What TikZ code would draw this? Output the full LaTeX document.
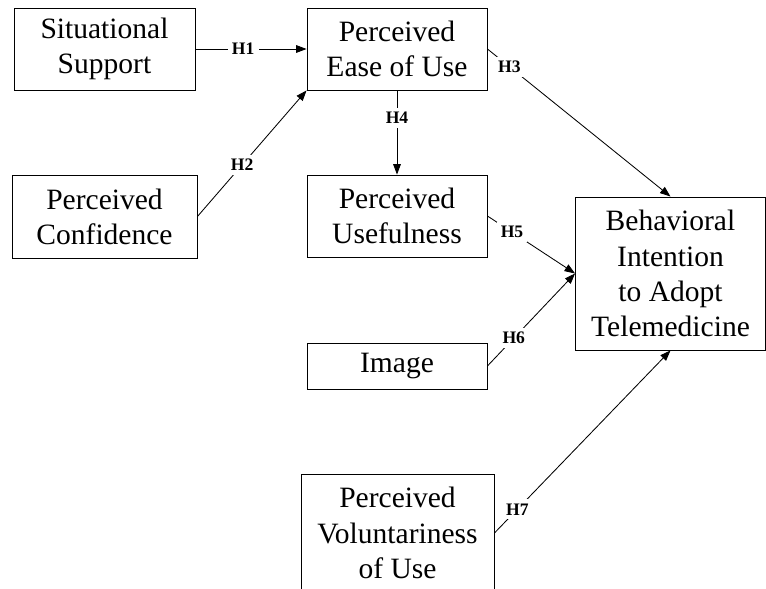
\documentclass[tikz,border=0pt]{standalone}
\usepackage{fontspec}
\setmainfont{Liberation Serif}
\usetikzlibrary{arrows.meta}

\begin{document}
\begin{tikzpicture}[x=0.025cm, y=-0.025cm,
			->,
			>={Triangle[length=7.5pt, width=5.5pt]},
			line width=0.6pt,
			box/.style={draw, align=center, inner sep=0pt, font=\fontsize{21}{25}\selectfont},
			hyp/.style={fill=white, inner sep=3pt, font=\fontsize{12.5}{13}\selectfont\bfseries}]

			\useasboundingbox (0,0) rectangle (766,589);

			% constructs
			\node[box, minimum width=4.525cm, minimum height=2.05cm] (sit) at (104.5,49) {Situational\\Support};
			\node[box, minimum width=4.5cm, minimum height=2.05cm] (peou) at (397,49) {Perceived\\Ease of Use};
			\node[box, minimum width=4.625cm, minimum height=2.075cm] (conf) at (104.5,216.5) {Perceived\\Confidence};
			\node[box, minimum width=4.5cm, minimum height=2.05cm] (pu) at (397,216) {Perceived\\Usefulness};
			\node[box, minimum width=4.75cm, minimum height=3.825cm] (bi) at (670.5,273.5) {Behavioral\\Intention\\to Adopt\\Telemedicine};
			\node[box, minimum width=4.5cm, minimum height=1.15cm] (img) at (397,366) {Image};
			\node[box, minimum width=4.825cm, minimum height=2.95cm] (vol) at (397.5,533) {Perceived\\Voluntariness\\of Use};

			% hypotheses
			\draw (sit.east) -- node[hyp, pos=0.43] {H1} (peou.west);
			\draw (conf.east) -- node[hyp, pos=0.41] {H2} (peou.south west);
			\draw (peou.east) -- node[hyp, pos=0.12] {H3} (bi.north);
			\draw (peou.south) -- node[hyp, pos=0.33] {H4} (pu.north);
			\draw (pu.east) -- node[hyp, pos=0.28] {H5} (bi.west);
			\draw (img.east) -- node[hyp, pos=0.3] {H6} (bi.west);
			\draw (vol.east) -- node[hyp, pos=0.13] {H7} (bi.south);
		\end{tikzpicture}
\end{document}
